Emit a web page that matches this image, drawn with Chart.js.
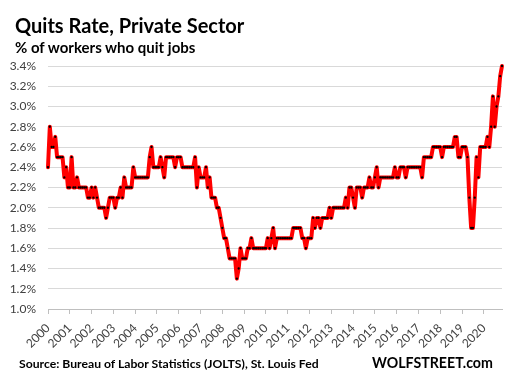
<!DOCTYPE html>
<html>
<head>
<meta charset="utf-8">
<script src="https://cdn.jsdelivr.net/npm/chart.js@4.4.0/dist/chart.umd.min.js"></script>
<style>
  html, body { margin: 0; padding: 0; background: #fff; }
  #wrap { position: relative; width: 506px; height: 381px; overflow: hidden; font-family: Lato, 'Open Sans', sans-serif; }
  #myChart { position: absolute; left: 0; top: 0; }
  .txt { position: absolute; font-weight: bold; color: #000; white-space: nowrap; line-height: 1; }
  #title { left: 15px; top: 15px; font-size: 20px; }
  #subtitle { left: 15px; top: 40px; font-size: 15px; }
  #source { left: 19px; top: 358px; font-size: 12.2px; }
  #brand { left: 372px; top: 356px; font-size: 14.2px; }
</style>
</head>
<body>
<div id="wrap">
  <canvas id="myChart" width="506" height="381"></canvas>
  <div class="txt" id="title">Quits Rate, Private Sector</div>
  <div class="txt" id="subtitle">% of workers who quit jobs</div>
  <div class="txt" id="source">Source: Bureau of Labor Statistics (JOLTS), St. Louis Fed</div>
  <div class="txt" id="brand">WOLFSTREET.com</div>
</div>
<script>
// year labels under the x axis, one every 12 months (first month = Dec 2000)
const tickYears = ['2000', '2001', '2002', '2003', '2004', '2005', '2006', '2007', '2008', '2009', '2010',
    '2011', '2012', '2013', '2014', '2015', '2016', '2017', '2018', '2019', '2020'];

// quits rate, private sector, % (monthly)
const quitsRate = [
    2.4, 2.8, 2.6, 2.6, 2.7, 2.5, 2.5, 2.5, 2.5, 2.3, 2.4, 2.2,
    2.2, 2.5, 2.2, 2.2, 2.3, 2.2, 2.2, 2.2, 2.2, 2.2, 2.1, 2.1,
    2.2, 2.1, 2.2, 2.1, 2.0, 2.0, 2.0, 2.0, 1.9, 2.0, 2.1, 2.1,
    2.1, 2.0, 2.1, 2.1, 2.2, 2.1, 2.3, 2.2, 2.2, 2.2, 2.2, 2.4,
    2.3, 2.3, 2.3, 2.3, 2.3, 2.3, 2.3, 2.3, 2.5, 2.6, 2.4, 2.4,
    2.4, 2.4, 2.5, 2.4, 2.3, 2.5, 2.5, 2.5, 2.5, 2.5, 2.4, 2.5,
    2.5, 2.5, 2.4, 2.4, 2.4, 2.4, 2.4, 2.4, 2.4, 2.5, 2.2, 2.4,
    2.3, 2.3, 2.3, 2.4, 2.2, 2.3, 2.1, 2.1, 2.1, 2.0, 2.0, 1.9,
    1.8, 1.7, 1.7, 1.6, 1.5, 1.5, 1.5, 1.5, 1.3, 1.4, 1.6, 1.5,
    1.5, 1.5, 1.6, 1.6, 1.7, 1.6, 1.6, 1.6, 1.6, 1.6, 1.6, 1.6,
    1.6, 1.7, 1.6, 1.7, 1.8, 1.6, 1.7, 1.7, 1.7, 1.7, 1.7, 1.7,
    1.7, 1.7, 1.7, 1.8, 1.8, 1.8, 1.8, 1.8, 1.7, 1.7, 1.6, 1.7,
    1.7, 1.7, 1.9, 1.8, 1.9, 1.9, 1.8, 1.9, 1.9, 1.9, 1.9, 2.0,
    1.9, 2.0, 2.0, 2.0, 2.0, 2.0, 2.0, 2.0, 2.1, 2.0, 2.2, 2.2,
    2.1, 2.0, 2.2, 2.2, 2.2, 2.1, 2.2, 2.2, 2.2, 2.3, 2.2, 2.2,
    2.3, 2.4, 2.2, 2.3, 2.3, 2.3, 2.3, 2.3, 2.3, 2.3, 2.3, 2.4,
    2.3, 2.3, 2.4, 2.4, 2.4, 2.3, 2.4, 2.4, 2.4, 2.4, 2.4, 2.4,
    2.4, 2.4, 2.3, 2.5, 2.5, 2.5, 2.5, 2.5, 2.6, 2.6, 2.6, 2.6,
    2.6, 2.5, 2.6, 2.6, 2.6, 2.6, 2.6, 2.6, 2.7, 2.7, 2.5, 2.5,
    2.6, 2.6, 2.6, 2.5, 2.1, 1.8, 1.8, 2.1, 2.5, 2.3, 2.6, 2.6,
    2.6, 2.6, 2.7, 2.6, 2.8, 3.1, 2.8, 3.0, 3.1, 3.3, 3.4
];

const yTicks = { min: 1.0, max: 3.4, step: 0.2 };

const axisFont = { family: 'Lato', size: 12 };

const ctx = document.getElementById('myChart');
new Chart(ctx, {
    type: 'line',
    data: {
        datasets: [{
            label: 'Quits rate',
            data: quitsRate.map((v, i) => ({ x: i, y: v })),
            borderColor: '#ff0000',
            borderWidth: 4,
            borderJoinStyle: 'round',
            borderCapStyle: 'round',
            tension: 0,
            clip: false,
            pointRadius: 1.15,
            pointBorderWidth: 0,
            pointBackgroundColor: '#000000'
        }]
    },
    options: {
        responsive: false,
        animation: false,
        layout: { padding: { left: 0, top: 66, right: 4, bottom: 0 } },
        plugins: {
            legend: { display: false },
            tooltip: { enabled: false }
        },
        scales: {
            x: {
                type: 'linear',
                min: 0,
                max: quitsRate.length - 1,
                afterFit: (s) => { s.height = 72; },
                grid: { display: true, drawOnChartArea: false, drawTicks: true, tickLength: 5, color: '#bfbfbf' },
                border: { display: true, color: '#bfbfbf' },
                ticks: {
                    stepSize: 12,
                    includeBounds: false,
                    autoSkip: false,
                    minRotation: 45,
                    maxRotation: 45,
                    padding: 7,
                    color: '#404040',
                    font: axisFont,
                    callback: (v) => tickYears[Math.round(v / 12)]
                }
            },
            y: {
                min: yTicks.min,
                max: yTicks.max,
                afterFit: (s) => { s.width = 48; },
                grid: { color: '#d9d9d9', drawTicks: false },
                border: { display: false },
                ticks: {
                    stepSize: yTicks.step,
                    padding: 12,
                    color: '#404040',
                    font: axisFont,
                    callback: (v) => v.toFixed(1) + '%'
                }
            }
        }
    }
});
</script>
</body>
</html>
